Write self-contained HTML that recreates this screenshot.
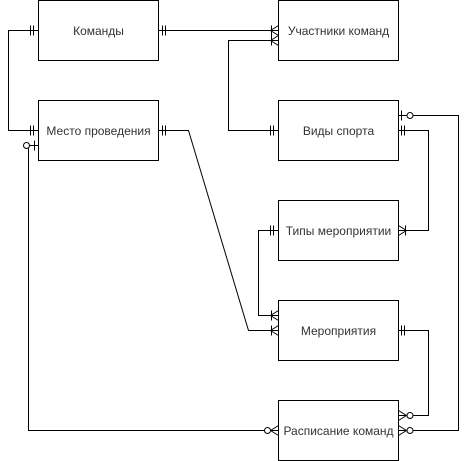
<!DOCTYPE html>
<html><head><meta charset="utf-8"><style>
html,body{margin:0;padding:0;background:#fff;}
svg{display:block;}
text{font-family:"Liberation Sans",Arial,sans-serif;font-size:12px;fill:#333;}
</style></head><body>
<svg width="468" height="461" viewBox="0 0 468 461" xmlns="http://www.w3.org/2000/svg">
<g fill="#fff" stroke="#000" stroke-width="1">
<rect x="38.5" y="0.5" width="120" height="60"/>
<rect x="278.5" y="0.5" width="120" height="60"/>
<rect x="38.5" y="100.5" width="120" height="60"/>
<rect x="278.5" y="100.5" width="120" height="60"/>
<rect x="278.5" y="200.5" width="120" height="60"/>
<rect x="278.5" y="300.5" width="120" height="60"/>
<rect x="278.5" y="400.5" width="120" height="60"/>
</g>
<g text-anchor="middle">
<text x="98.5" y="35">Команды</text>
<text x="338.5" y="35">Участники команд</text>
<text x="98.5" y="135">Место проведения</text>
<text x="338.5" y="135">Виды спорта</text>
<text x="338.5" y="235">Типы мероприятии</text>
<text x="338.5" y="335">Мероприятия</text>
<text x="338.5" y="435">Расписание команд</text>
</g>
<g fill="none" stroke="#000" stroke-width="1">
<!-- 1 Команды -> Участники -->
<path d="M158.5 30.5 H278.5"/>
<path d="M162.5 25.5 V35.5 M165.5 25.5 V35.5"/>
<path d="M270.5 30.5 L278.5 25.5 M270.5 30.5 L278.5 35.5 M271.5 25.5 V35.5"/>
<!-- 2 Команды left -> Место left -->
<path d="M38.5 30.5 H8.5 V130.5 H38.5"/>
<path d="M30.5 25.5 V35.5 M33.5 25.5 V35.5"/>
<path d="M30.5 125.5 V135.5 M33.5 125.5 V135.5"/>
<!-- 3 Виды left -> Участники -->
<path d="M278.5 130.5 H228.5 V40.5 H278.5"/>
<path d="M270.5 125.5 V135.5 M273.5 125.5 V135.5"/>
<path d="M270.5 40.5 L278.5 35.5 M270.5 40.5 L278.5 45.5 M271.5 35.5 V45.5"/>
<!-- 4 Виды right -> Типы right -->
<path d="M398.5 130.5 H428.5 V230.5 H398.5"/>
<path d="M401.5 125.5 V135.5 M404.5 125.5 V135.5"/>
<path d="M406.5 230.5 L398.5 225.5 M406.5 230.5 L398.5 235.5 M405.5 225.5 V235.5"/>
<!-- 5 Виды right -> Расписание right -->
<path d="M413.5 115.5 H458.5 V430.5 H413.5"/>
<path d="M398.5 115.5 H406.5 M401.5 110.5 V120.5"/>
<circle cx="410" cy="115.5" r="3"/>
<path d="M398.5 430.5 H406.5 M406.5 430.5 L398.5 425.5 M406.5 430.5 L398.5 435.5"/>
<circle cx="410" cy="430.5" r="3"/>
<!-- 6 Место right -> Мероприятия -->
<path d="M158.5 130.5 H188.5 L248.5 330.5 H278.5"/>
<path d="M162.5 125.5 V135.5 M165.5 125.5 V135.5"/>
<path d="M270.5 330.5 L278.5 325.5 M270.5 330.5 L278.5 335.5 M271.5 325.5 V335.5"/>
<!-- 7 Типы left -> Мероприятия -->
<path d="M278.5 230.5 H258.5 V315.5 H278.5"/>
<path d="M270.5 225.5 V235.5 M273.5 225.5 V235.5"/>
<path d="M270.5 315.5 L278.5 310.5 M270.5 315.5 L278.5 320.5 M271.5 310.5 V320.5"/>
<!-- 8 Мероприятия right -> Расписание -->
<path d="M398.5 330.5 H428.5 V415.5 H413.5"/>
<path d="M401.5 325.5 V335.5 M404.5 325.5 V335.5"/>
<path d="M398.5 415.5 H406.5 M406.5 415.5 L398.5 410.5 M406.5 415.5 L398.5 420.5"/>
<circle cx="410" cy="415.5" r="3"/>
<!-- 9 Место -> Расписание left -->
<path d="M38.5 145.5 H29.5 M28.5 148.5 V430.5 H264.5"/>
<path d="M34.5 140.5 V150.5"/>
<circle cx="26.5" cy="145.5" r="3"/>
<path d="M270.5 430.5 H278.5 M270.5 430.5 L278.5 425.5 M270.5 430.5 L278.5 435.5"/>
<circle cx="267.5" cy="430.5" r="3"/>
</g>
</svg>
</body></html>
